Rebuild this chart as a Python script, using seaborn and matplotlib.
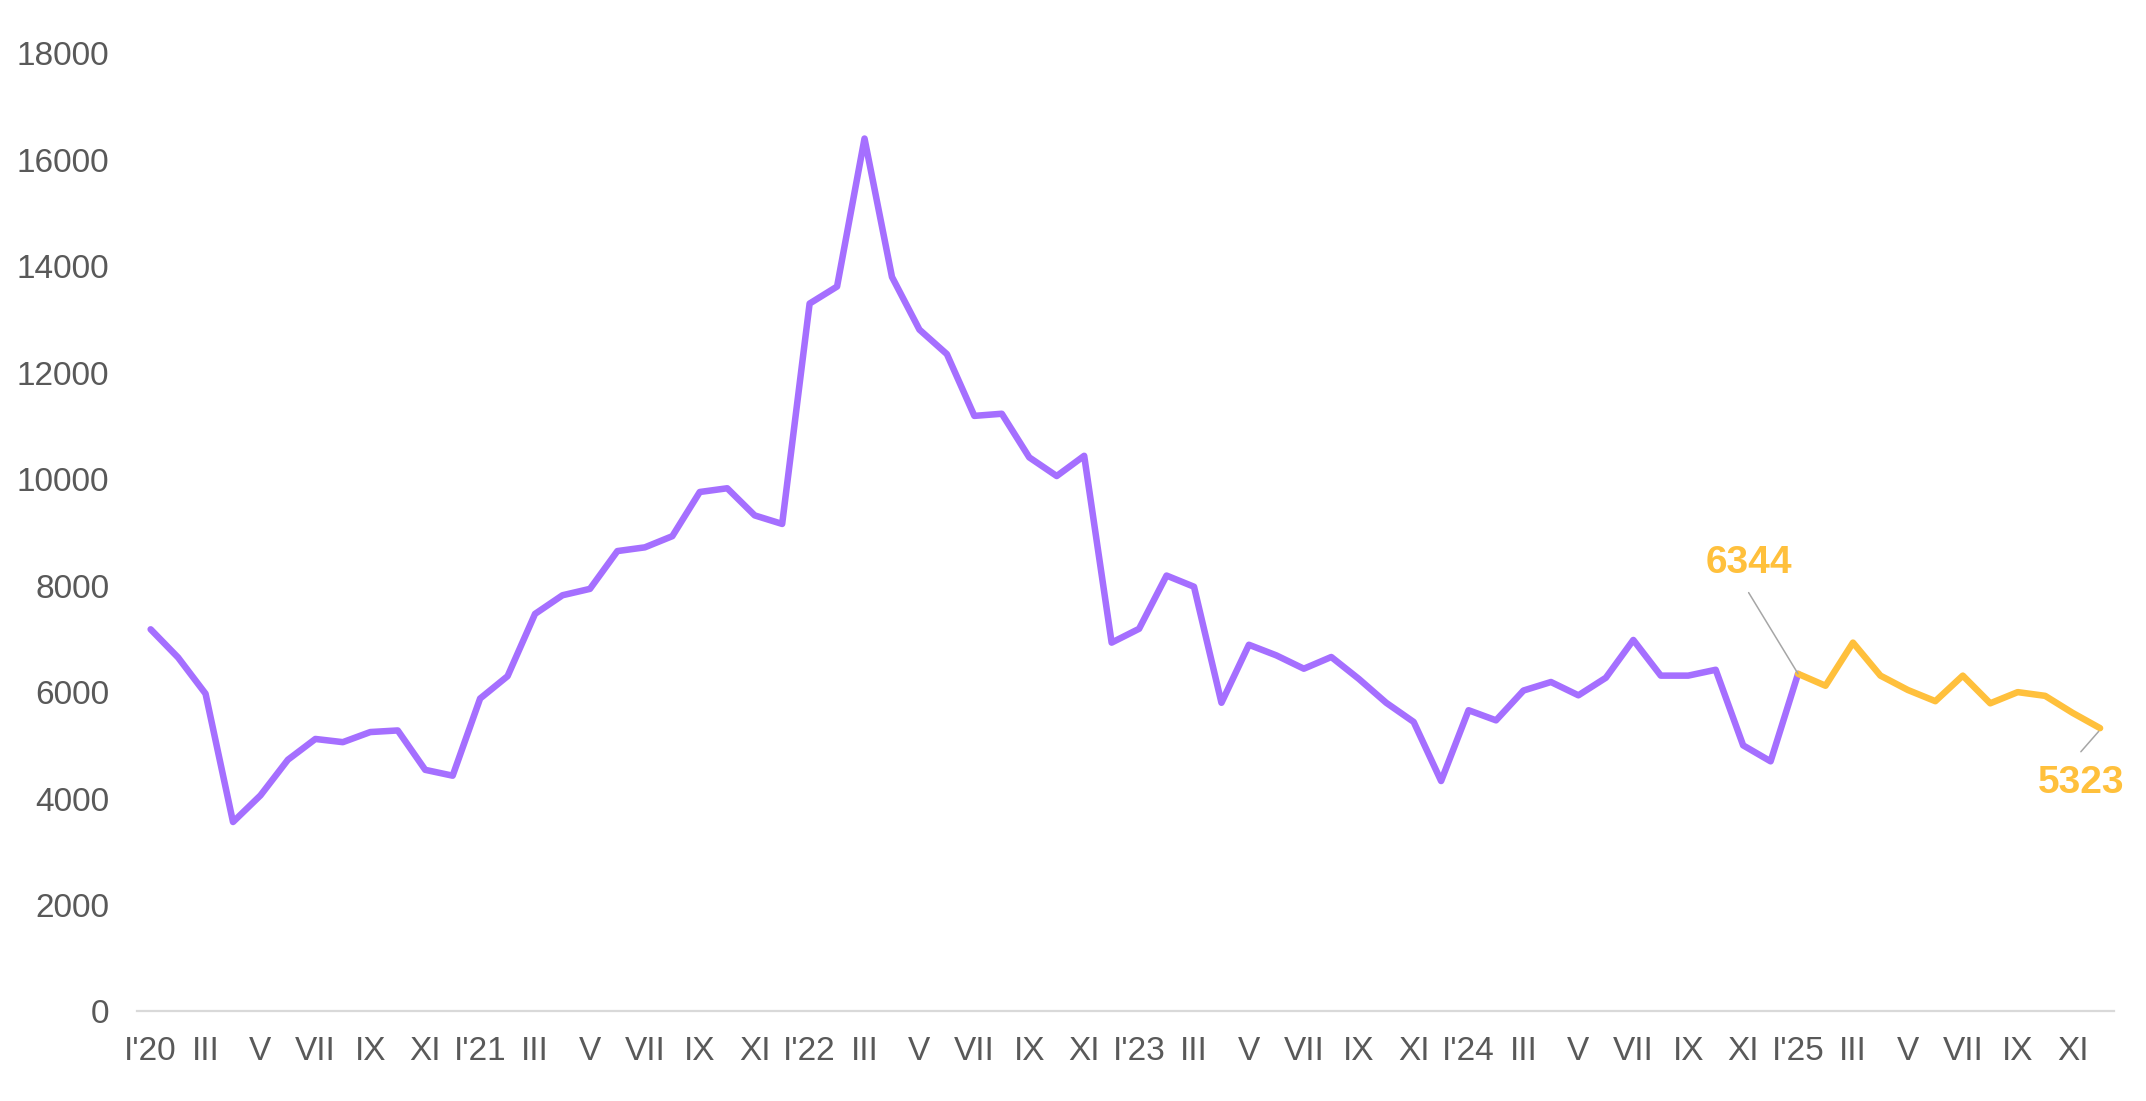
import matplotlib
matplotlib.use("Agg")
import matplotlib.pyplot as plt
import seaborn as sns
import pandas as pd
import numpy as np

# Monthly values Jan 2020 .. Dec 2025
values = [
    7180, 6650, 5970, 3560, 4060, 4730, 5120, 5060, 5250, 5280, 4540, 4430,   # 2020
    5880, 6300, 7470, 7820, 7940, 8650, 8720, 8930, 9760, 9830, 9320, 9160,   # 2021
    13300, 13620, 16400, 13800, 12810, 12350, 11190, 11230, 10410, 10060, 10440, 6930,  # 2022
    7190, 8190, 7980, 5800, 6890, 6690, 6440, 6660, 6250, 5800, 5440, 4330,   # 2023
    5660, 5470, 6030, 6190, 5940, 6270, 6980, 6310, 6310, 6420, 5000, 4700,   # 2024
    6344, 6120, 6930, 6310, 6040, 5830, 6310, 5790, 6000, 5930, 5610, 5323,   # 2025
]
roman = ["I", "II", "III", "IV", "V", "VI", "VII", "VIII", "IX", "X", "XI", "XII"]
years = ["20", "21", "22", "23", "24", "25"]
month_labels = []
for y in years:
    for i, r in enumerate(roman):
        month_labels.append(f"I'{y}" if i == 0 else r)

split_index = 60  # Jan 2025
purple = "#A56FFF"
yellow = "#FFC03C"
leader = "#A6A6A6"

df = pd.DataFrame({"idx": np.arange(len(values)), "value": values})
df_hist = df[df["idx"] <= split_index]
df_new = df[df["idx"] >= split_index]

sns.set_theme(style="white")
plt.rcParams["font.family"] = ["Liberation Sans", "DejaVu Sans"]

fig = plt.figure(figsize=(21.46, 11.01), dpi=100)
ax = fig.add_axes([0.0638, 0.0813, 0.9212, 0.8702])

line_kw = dict(linewidth=4.7, solid_joinstyle="round", solid_capstyle="round")
sns.lineplot(data=df_hist, x="idx", y="value", color=purple, ax=ax, **line_kw)
sns.lineplot(data=df_new, x="idx", y="value", color=yellow, ax=ax, **line_kw)

ax.set_xlim(-0.5, 71.5)
ax.set_ylim(0, 18000)
ax.set_yticks(np.arange(0, 18001, 2000))
ax.set_yticklabels([str(v) for v in range(0, 18001, 2000)])
tick_pos = list(range(0, len(values), 2))
ax.set_xticks(tick_pos)
ax.set_xticklabels([month_labels[i] for i in tick_pos])
ax.set_xlabel("")
ax.set_ylabel("")

for s in ["top", "right", "left"]:
    ax.spines[s].set_visible(False)
ax.spines["bottom"].set_color("#D9D9D9")
ax.spines["bottom"].set_linewidth(1.6)
ax.tick_params(axis="both", length=0, labelsize=24, labelcolor="#595959")
ax.tick_params(axis="y", pad=20)
ax.tick_params(axis="x", pad=18)
ax.grid(False)

# Label for first 2025 value
first_val = values[split_index]
ax.annotate("", xy=(split_index, first_val), xytext=(58.2, 7870),
            arrowprops=dict(arrowstyle="-", color=leader, lw=1.1, shrinkA=0, shrinkB=0))
ax.text(58.2, 8420, f"{first_val}", ha="center", va="center",
        fontsize=28, fontweight="bold", color=yellow)

# Label for last value
last = len(values) - 1
ax.annotate("", xy=(last - 0.05, values[last] - 60), xytext=(70.3, 4880),
            arrowprops=dict(arrowstyle="-", color=leader, lw=1.1, shrinkA=0, shrinkB=0))
ax.text(70.3, 4300, f"{values[last]}", ha="center", va="center",
        fontsize=28, fontweight="bold", color=yellow)

fig.savefig("out.png", dpi=100, facecolor="white")
